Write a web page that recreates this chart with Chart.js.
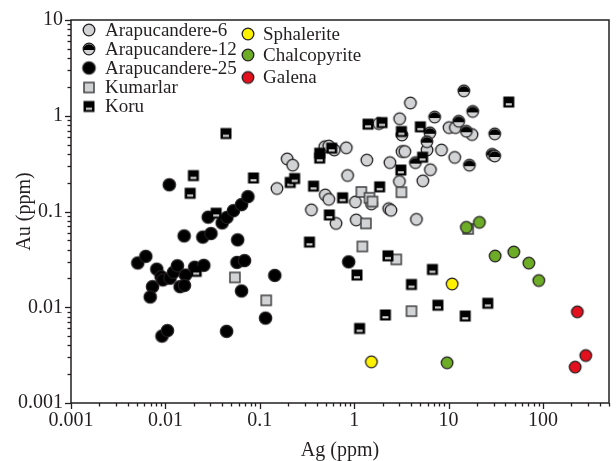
<!DOCTYPE html>
<html>
<head>
<meta charset="utf-8">
<script src="https://cdn.jsdelivr.net/npm/chart.js@4.4.1/dist/chart.umd.min.js"></script>
<style>
  html, body { margin: 0; padding: 0; background: #fff; }
  #wrap { width: 616px; height: 461px; }
</style>
</head>
<body>
<div id="wrap"><canvas id="chart" width="616" height="461"></canvas></div>
<script>
// Data: [Ag ppm, Au ppm]
const arapucandere6 = [
  [0.195, 0.354], [0.223, 0.305], [0.152, 0.174], [0.488, 0.475], [0.538, 0.483],
  [0.615, 0.439], [0.824, 0.463], [1.36, 0.344], [2.39, 0.324], [3.21, 0.423],
  [3.44, 0.423], [0.851, 0.238], [3.01, 0.206], [3.94, 1.36], [3.03, 0.931],
  [1.82, 0.828], [10.1, 0.752], [11.8, 0.752], [17.7, 0.637], [5.91, 0.439],
  [8.4, 0.439], [11.6, 0.367], [6.41, 0.273], [5.33, 0.209], [0.494, 0.149],
  [0.538, 0.134], [0.352, 0.104], [0.642, 0.0751], [1.03, 0.126], [1.52, 0.12],
  [1.05, 0.0817], [2.32, 0.107], [2.45, 0.103], [4.56, 0.0828]
];
const arapucandere12 = [
  [14.5, 1.82], [18.0, 1.11], [7.12, 0.969], [12.8, 0.877], [15.4, 0.689],
  [6.34, 0.664], [30.8, 0.647], [5.89, 0.536], [28.9, 0.396], [30.8, 0.38],
  [4.45, 0.324], [16.6, 0.305], [3.2, 0.63]
];
const arapucandere25 = [
  [0.011, 0.19], [0.0051, 0.029], [0.0062, 0.034], [0.0081, 0.025], [0.0073, 0.0164],
  [0.0069, 0.0128], [0.009, 0.0209], [0.0094, 0.0193], [0.0112, 0.0201], [0.0122, 0.0232],
  [0.0134, 0.0271], [0.0163, 0.0217], [0.0143, 0.0164], [0.0159, 0.0169], [0.0204, 0.0262],
  [0.0255, 0.0274], [0.0158, 0.0556], [0.0249, 0.054], [0.0304, 0.0589], [0.0284, 0.0873],
  [0.0399, 0.076], [0.0448, 0.0867], [0.0526, 0.102], [0.064, 0.118], [0.0748, 0.143],
  [0.0583, 0.0506], [0.0573, 0.0294], [0.0689, 0.0307], [0.064, 0.0148], [0.144, 0.0215],
  [0.115, 0.0077], [0.0092, 0.005], [0.0105, 0.0057], [0.0445, 0.0056], [0.873, 0.0298]
];
const kumarlar = [
  [0.0545, 0.0205], [0.117, 0.0118], [1.19, 0.16], [1.45, 0.139], [1.56, 0.127],
  [3.16, 0.159], [1.33, 0.0751], [1.22, 0.0431], [2.79, 0.0316], [4.04, 0.0091],
  [16.1, 0.0658]
];
const koru = [
  [0.0438, 0.652], [0.0198, 0.237], [0.0183, 0.155], [0.0857, 0.224], [0.0345, 0.096],
  [0.0212, 0.0237], [0.21, 0.201], [0.234, 0.221], [0.371, 0.184], [0.431, 0.406],
  [0.431, 0.361], [0.578, 0.459], [0.336, 0.0479], [0.545, 0.092], [0.753, 0.139],
  [1.4, 0.817], [1.97, 0.848], [3.16, 0.684], [5.02, 0.766], [5.3, 0.369],
  [3.12, 0.271], [1.86, 0.181], [43.4, 1.39], [2.28, 0.0344], [6.73, 0.0248],
  [1.07, 0.0217], [4.04, 0.0173], [7.7, 0.0105], [26.0, 0.011], [2.14, 0.0083],
  [15.0, 0.0081], [1.14, 0.006]
];
const sphalerite = [[10.9, 0.0175], [1.52, 0.00269]];
const chalcopyrite = [
  [15.4, 0.0684], [21.2, 0.0771], [31.1, 0.0343], [49.0, 0.0378], [70.8, 0.0289],
  [90.2, 0.019], [9.64, 0.00263]
];
const galena = [[231, 0.00896], [284, 0.00313], [219, 0.00237]];

const xTickLabels = ['0.001', '0.01', '0.1', '1', '10', '100'];
const yTickLabels = ['0.001', '0.01', '0.1', '1', '10'];

const INK = '#231f20';
const GREY = '#d1d3d4';
const FONT = 'Liberation Serif';

// marker images
function circleMarker(fill, r) {
  const s = Math.ceil(2 * r + 4);
  const c = document.createElement('canvas');
  c.width = c.height = s;
  const g = c.getContext('2d');
  g.beginPath();
  g.arc(s / 2, s / 2, r, 0, Math.PI * 2);
  g.fillStyle = fill;
  g.fill();
  g.lineWidth = 1.3;
  g.strokeStyle = INK;
  g.stroke();
  return c;
}

function halfCircleMarker(r) {
  const s = Math.ceil(2 * r + 4);
  const c = document.createElement('canvas');
  c.width = c.height = s;
  const g = c.getContext('2d');
  const m = s / 2;
  g.beginPath();
  g.arc(m, m, r, 0, Math.PI * 2);
  g.fillStyle = GREY;
  g.fill();
  g.beginPath();
  g.arc(m, m + 1, r, Math.PI, Math.PI * 2);
  g.closePath();
  g.fillStyle = '#000';
  g.fill();
  g.beginPath();
  g.arc(m, m, r, 0, Math.PI * 2);
  g.lineWidth = 1.3;
  g.strokeStyle = INK;
  g.stroke();
  return c;
}

function squareMarker(side) {
  const s = side + 4;
  const c = document.createElement('canvas');
  c.width = c.height = s;
  const g = c.getContext('2d');
  g.fillStyle = GREY;
  g.fillRect(2, 2, side, side);
  g.lineWidth = 1.5;
  g.strokeStyle = '#414042';
  g.strokeRect(2, 2, side, side);
  return c;
}

function koruMarker(side) {
  const s = side + 4;
  const c = document.createElement('canvas');
  c.width = c.height = s;
  const g = c.getContext('2d');
  g.fillStyle = '#000';
  g.fillRect(1.5, 1.5, side + 1, side + 1);
  g.fillStyle = GREY;
  g.fillRect(4, 2 + side * 0.62, side - 4, side * 0.22);
  return c;
}

const markers = {
  a6: circleMarker(GREY, 5.8),
  a12: halfCircleMarker(5.8),
  a25: circleMarker('#000', 6.2),
  kum: squareMarker(10),
  koru: koruMarker(10),
  sph: circleMarker('#fff200', 5.8),
  chal: circleMarker('#6cac26', 5.8),
  gal: circleMarker('#e3101d', 5.8)
};

function pts(list) {
  return list.map(p => ({ x: p[0], y: p[1] }));
}

function buildTicks(min, max) {
  const out = [];
  for (let e = Math.floor(Math.log10(min)); e <= Math.ceil(Math.log10(max)); e++) {
    for (let k = 1; k <= 9; k++) {
      const v = k * Math.pow(10, e);
      if (v >= min * 0.999 && v <= max * 1.001) out.push({ value: v, major: k === 1 });
    }
  }
  return out;
}

function labelFor(value, labels) {
  const hit = labels.find(l => Math.abs(Number(l) - value) / value < 1e-6);
  return hit || '';
}

// tick marks, frame and legend
const decorations = {
  id: 'decorations',
  afterDatasetsDraw(chart) {
    const ctx = chart.ctx;
    const a = chart.chartArea;
    ctx.save();
    ctx.strokeStyle = INK;
    ctx.lineWidth = 1.3;
    const xs = chart.scales.x, ys = chart.scales.y;
    xs.ticks.forEach(t => {
      const px = Math.round(xs.getPixelForValue(t.value)) + 0.5;
      ctx.beginPath();
      ctx.moveTo(px, a.bottom);
      ctx.lineTo(px, a.bottom + (t.major ? 6 : 3.5));
      ctx.stroke();
    });
    ys.ticks.forEach(t => {
      const py = Math.round(ys.getPixelForValue(t.value)) + 0.5;
      ctx.beginPath();
      ctx.moveTo(a.left, py);
      ctx.lineTo(a.left - (t.major ? 6 : 3.5), py);
      ctx.stroke();
    });
    ctx.lineWidth = 1.5;
    ctx.strokeRect(a.left, a.top, a.right - a.left, a.bottom - a.top);

    // legend
    const legendLeft = [
      ['Arapucandere-6', markers.a6, 30],
      ['Arapucandere-12', markers.a12, 49],
      ['Arapucandere-25', markers.a25, 68],
      ['Kumarlar', markers.kum, 87.5],
      ['Koru', markers.koru, 106.5]
    ];
    const legendRight = [
      ['Sphalerite', markers.sph, 34],
      ['Chalcopyrite', markers.chal, 55],
      ['Galena', markers.gal, 77.5]
    ];
    ctx.fillStyle = INK;
    ctx.font = '19px "' + FONT + '"';
    ctx.textBaseline = 'middle';
    ctx.textAlign = 'left';
    legendLeft.forEach(([txt, img, y]) => {
      ctx.drawImage(img, 89 - img.width / 2, y - img.height / 2);
      ctx.fillText(txt, 105, y + 1);
    });
    legendRight.forEach(([txt, img, y]) => {
      ctx.drawImage(img, 248 - img.width / 2, y - img.height / 2);
      ctx.fillText(txt, 263, y + 1);
    });
    ctx.restore();
  }
};

const ctx = document.getElementById('chart').getContext('2d');
new Chart(ctx, {
  type: 'scatter',
  data: {
    datasets: [
      { label: 'Arapucandere-6', data: pts(arapucandere6), pointStyle: markers.a6, order: 8 },
      { label: 'Arapucandere-12', data: pts(arapucandere12), pointStyle: markers.a12, order: 7 },
      { label: 'Arapucandere-25', data: pts(arapucandere25), pointStyle: markers.a25, order: 6 },
      { label: 'Kumarlar', data: pts(kumarlar), pointStyle: markers.kum, order: 5 },
      { label: 'Koru', data: pts(koru), pointStyle: markers.koru, order: 4 },
      { label: 'Sphalerite', data: pts(sphalerite), pointStyle: markers.sph, order: 3 },
      { label: 'Chalcopyrite', data: pts(chalcopyrite), pointStyle: markers.chal, order: 2 },
      { label: 'Galena', data: pts(galena), pointStyle: markers.gal, order: 1 }
    ]
  },
  options: {
    responsive: false,
    animation: false,
    layout: { padding: { left: 0, right: 7, top: 15, bottom: 0 } },
    plugins: { legend: { display: false }, tooltip: { enabled: false } },
    elements: { point: { radius: 6, hoverRadius: 6 } },
    scales: {
      x: {
        type: 'logarithmic',
        min: 0.001,
        max: 500,
        grid: { display: false, drawTicks: false },
        border: { display: false },
        afterBuildTicks: s => { s.ticks = buildTicks(0.001, 500); },
        afterFit: s => { s.height = 58; },
        ticks: {
          autoSkip: false,
          maxRotation: 0,
          padding: 6,
          color: INK,
          font: { family: FONT, size: 20 },
          callback: v => labelFor(v, xTickLabels)
        },
        title: {
          display: true,
          text: 'Ag (ppm)',
          color: INK,
          font: { family: FONT, size: 20 },
          padding: { top: 0, bottom: -2 }
        }
      },
      y: {
        type: 'logarithmic',
        min: 0.001,
        max: 10,
        grid: { display: false, drawTicks: false },
        border: { display: false },
        afterBuildTicks: s => { s.ticks = buildTicks(0.001, 10); },
        afterFit: s => { s.width = 71; },
        ticks: {
          autoSkip: false,
          padding: 8,
          color: INK,
          font: { family: FONT, size: 20 },
          callback: v => labelFor(v, yTickLabels)
        },
        title: {
          display: true,
          text: 'Au (ppm)',
          color: INK,
          font: { family: FONT, size: 20 },
          padding: { top: 13, bottom: 0 }
        }
      }
    }
  },
  plugins: [decorations]
});
</script>
</body>
</html>
